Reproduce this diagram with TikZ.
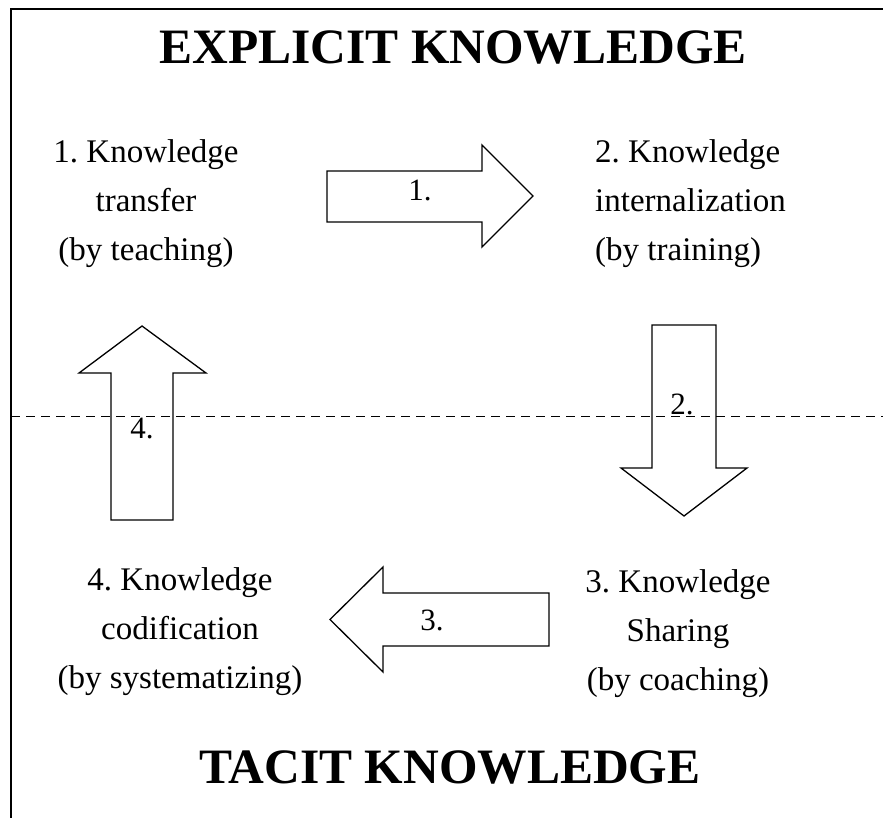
\documentclass[tikz,border=0pt]{standalone}
\usepackage{fontspec}
\setmainfont{Liberation Serif}
\frenchspacing
\begin{document}
\begin{tikzpicture}[x=1pt,y=-1pt,
  frame/.style={line width=1.5pt, line cap=rect},
  divider/.style={line width=1pt, dash pattern=on 9pt off 6pt},
  blockarrow/.style={draw, line width=1.3pt, line join=miter},
  title/.style={font=\fontsize{49.5}{55}\selectfont\bfseries, inner sep=0pt, anchor=base},
  stage/.style={font=\fontsize{33}{49}\selectfont, inner sep=0pt, align=center, anchor=north},
  stageleft/.style={font=\fontsize{33}{49}\selectfont, inner sep=0pt, align=left, anchor=north west},
  alabel/.style={font=\fontsize{31}{34}\selectfont, inner sep=0pt}]
\useasboundingbox (0,0) rectangle (883,817);
% frame (top and left)
\draw[frame] (11,817) -- (11,9) -- (883,9);
% dashed divider
\draw[divider] (11,416) -- (883,416);
% titles
\node[title] (explicit) at (453,63) {EXPLICIT KNOWLEDGE};
\node[title] (tacit) at (450,783) {TACIT KNOWLEDGE};
% stages
\node[stage] (s1) at (146,139) {1. Knowledge\\transfer\\(by teaching)};
\node[stageleft] (s2) at (595,139) {2. Knowledge\\internalization\\(by training)};
\node[stage] (s3) at (678,569) {3. Knowledge\\Sharing\\(by coaching)};
\node[stage] (s4) at (180,567) {4. Knowledge\\codification\\(by systematizing)};
% arrow 1 (right)
\draw[blockarrow] (327,171) -- (482,171) -- (482,145) -- (533,196) -- (482,247) -- (482,222) -- (327,222) -- cycle;
\node[alabel] (l1) at (420,190) {1.};
% arrow 2 (down)
\draw[blockarrow] (652,325) -- (716,325) -- (716,468) -- (747,468) -- (684,516) -- (621,468) -- (652,468) -- cycle;
\node[alabel] (l2) at (682,404) {2.};
% arrow 3 (left)
\draw[blockarrow] (549,593) -- (383,593) -- (383,567) -- (330,619.5) -- (383,672) -- (383,646) -- (549,646) -- cycle;
\node[alabel] (l3) at (432,620) {3.};
% arrow 4 (up)
\draw[blockarrow] (111,520) -- (111,373) -- (79,373) -- (142,326) -- (206,373) -- (173,373) -- (173,520) -- cycle;
\node[alabel] (l4) at (142,429) {4.};
\end{tikzpicture}
\end{document}
